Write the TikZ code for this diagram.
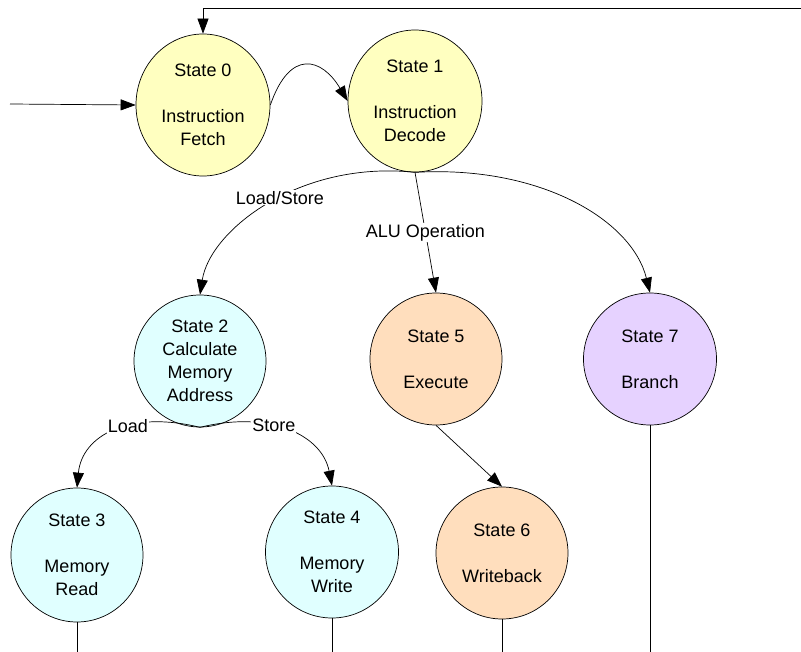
\documentclass[tikz,border=0pt]{standalone}
\usepackage{fontspec}
\setmainfont{Liberation Sans}
\usetikzlibrary{shapes.geometric,arrows.meta}
\definecolor{fyel}{HTML}{FFFFC0}
\definecolor{fcyan}{HTML}{E0FFFF}
\definecolor{forange}{HTML}{FFDEBD}
\definecolor{fpurple}{HTML}{E6D2FF}
\begin{document}
\begin{tikzpicture}[x=1pt,y=-1pt,
  stnode/.style={ellipse,draw=black,line width=0.7pt,inner sep=0pt,align=center,
    font=\fontsize{18}{23}\selectfont},
  conn/.style={line width=0.7pt,draw=black},
  arr/.style={conn,-{Triangle[length=15pt,width=11pt]}},
  lbl/.style={fill=white,inner sep=1pt,font=\fontsize{18}{23}\selectfont}]
\useasboundingbox (0,0) rectangle (801,652);
% states
\node[stnode,fill=fyel,minimum width=134pt,minimum height=142pt] (s0) at (203,105) {State 0\\[23pt]Instruction\\Fetch};
\node[stnode,fill=fyel,minimum width=134pt,minimum height=142pt] (s1) at (415,101) {State 1\\[23pt]Instruction\\Decode};
\node[stnode,fill=fcyan,minimum width=132pt,minimum height=132pt] (s2) at (200,361) {State 2\\Calculate\\Memory\\Address};
\node[stnode,fill=forange,minimum width=132pt,minimum height=132pt] (s5) at (436,359) {State 5\\[23pt]Execute};
\node[stnode,fill=fpurple,minimum width=133pt,minimum height=132pt] (s7) at (650,359) {State 7\\[23pt]Branch};
\node[stnode,fill=fcyan,minimum width=132pt,minimum height=134pt] (s3) at (77,555) {State 3\\[23pt]Memory\\Read};
\node[stnode,fill=fcyan,minimum width=133pt,minimum height=132pt] (s4) at (332,552) {State 4\\[23pt]Memory\\Write};
\node[stnode,fill=forange,minimum width=132pt,minimum height=132pt] (s6) at (502,553) {State 6\\[23pt]Writeback};
% free ends
\coordinate (fb) at (801,8);
\coordinate (entry) at (10,104);
\coordinate (e3) at (77,652);
\coordinate (e4) at (332,652);
\coordinate (e6) at (502,652);
\coordinate (e7) at (650,652);
% connectors
\draw[arr] (fb) -| (s0.north);
\draw[arr] (entry) -- (s0.west);
\draw[arr] (s0.east) .. controls (290,48) and (322,58) .. (s1.west);
\draw[arr] (s1.south) .. controls (300,160) and (210,230) .. (s2.north)
  node[lbl,pos=0.45] {Load/Store};
\draw[arr] (s1.south) -- (s5.north) node[lbl,pos=0.5] {ALU Operation};
\draw[arr] (s1.south) .. controls (540,165) and (632,220) .. (s7.north);
\draw[arr] (s2.south) .. controls (130,410) and (82,435) .. (s3.north)
  node[lbl,pos=0.4] {Load};
\draw[arr] (s2.south) .. controls (270,410) and (322,435) .. (s4.north)
  node[lbl,pos=0.4] {Store};
\draw[arr] (s5.south) -- (s6.north);
\draw[conn] (s3.south) -- (e3);
\draw[conn] (s4.south) -- (e4);
\draw[conn] (s6.south) -- (e6);
\draw[conn] (s7.south) -- (e7);
\end{tikzpicture}
\end{document}
